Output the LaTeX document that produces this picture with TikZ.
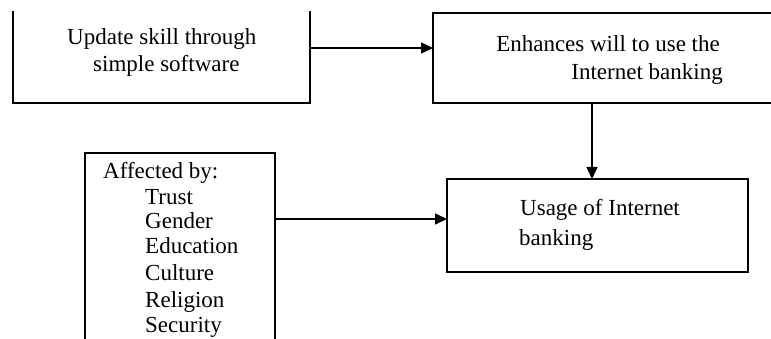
\documentclass[tikz,border=0pt]{standalone}
\usepackage{fontspec}
\setmainfont{Liberation Serif}
\usetikzlibrary{arrows.meta}
\begin{document}
\begin{tikzpicture}[x=1pt,y=-1pt,
  boxshape/.style={rectangle,inner sep=0pt,outer sep=0pt},
  edge/.style={line width=1.6pt,line cap=rect},
  arr/.style={line width=1.4pt,-{Triangle[length=12pt,width=11pt]}},
  txt/.style={inner sep=0pt,anchor=base west,font=\fontsize{23}{27}\selectfont},
  txtr/.style={txt,anchor=base east}]
\useasboundingbox (0,0) rectangle (771,339);
\clip (0,0) rectangle (771,339);
% box nodes
\node[boxshape,minimum width=297pt,minimum height=91pt] (box1) at (161.5,57.5) {};
\node[boxshape,minimum width=360pt,minimum height=90pt] (box2) at (613,58) {};
\node[boxshape,draw,line width=1.6pt,minimum width=301pt,minimum height=93pt] (box3) at (597.5,225.5) {};
\node[boxshape,minimum width=190pt,minimum height=220pt] (box4) at (180,263) {};
% box outlines (partly cut off by the frame)
\draw[edge] (box1.north west) -- (box1.south west) -- (box1.south east) -- (box1.north east);
\draw[edge] (box2.north east) -- (box2.north west) -- (box2.south west) -- (box2.south east);
\draw[edge] (box4.south west) -- (box4.north west) -- (box4.north east) -- (box4.south east);
% texts
\node[txt] (t1a) at (67,45) {Update skill through};
\node[txt] (t1b) at (93,72) {simple software};
\node[txtr] (t2a) at (720,52) {Enhances will to use the};
\node[txtr] (t2b) at (723,80) {Internet banking};
\node[txt] (t3a) at (520,216) {Usage of Internet};
\node[txt] (t3b) at (519,246) {banking};
\node[txt] (t4) at (103,179) {Affected by:};
\node[txt] (i1) at (145,205) {Trust};
\node[txt] (i2) at (145,229) {Gender};
\node[txt] (i3) at (145,253) {Education};
\node[txt] (i4) at (145,280) {Culture};
\node[txt] (i5) at (145,307) {Religion};
\node[txt] (i6) at (145,332) {Security};
% connectors
\coordinate (h1) at (0,48);
\coordinate (v1) at (592,0);
\coordinate (h2) at (0,219);
\draw[arr] (box1.east |- h1) -- (box2.west |- h1);
\draw[arr] (box2.south -| v1) -- (box3.north -| v1);
\draw[arr] (box4.east |- h2) -- (box3.west |- h2);
\end{tikzpicture}
\end{document}
